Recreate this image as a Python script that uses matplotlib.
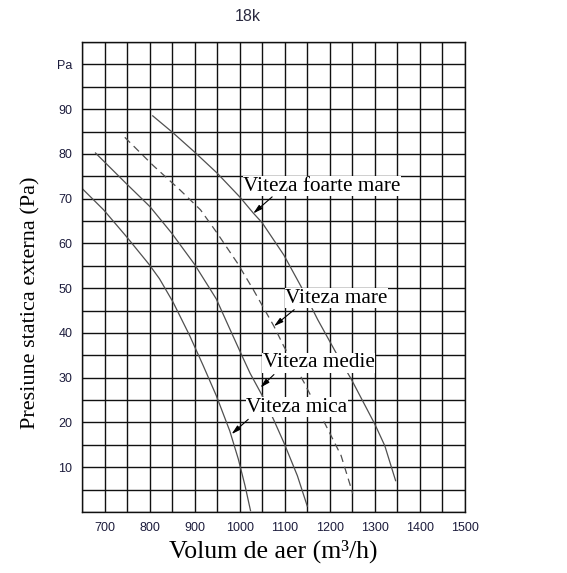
import matplotlib
matplotlib.use("Agg")
import matplotlib.pyplot as plt
import numpy as np

# curves (m3/h, Pa)
mica_x = [650, 698, 748, 799, 822, 852, 889, 919, 948, 978, 997, 1012, 1024]
mica_y = [72.3, 67.5, 61.6, 55.3, 52.1, 46.9, 39.4, 32.7, 26.0, 18.1, 11.8, 5.8, 0.3]

medie_x = [680, 748, 801, 849, 900, 948, 978, 1001, 1023, 1050, 1075, 1098, 1128, 1150]
medie_y = [80.2, 73.4, 68.2, 62.3, 55.3, 47.6, 40.9, 35.8, 31.0, 26.0, 20.7, 15.5, 8.1, 1.3]

mare_x = [745, 808, 868, 913, 950, 995, 1030, 1076, 1098, 1143, 1199, 1225, 1251]
mare_y = [83.7, 77.4, 71.9, 67.5, 62.3, 55.6, 49.7, 41.5, 37.0, 28.9, 17.8, 12.6, 4.1]

foarte_x = [807, 851, 900, 950, 1000, 1030, 1050, 1098, 1136, 1173, 1218, 1248, 1300, 1322, 1346]
foarte_y = [88.5, 84.8, 80.4, 75.7, 70.4, 66.8, 64.6, 57.4, 50.4, 43.0, 34.8, 29.6, 19.6, 14.8, 7.0]

x_ticks = [700, 800, 900, 1000, 1100, 1200, 1300, 1400, 1500]
y_ticks = [10, 20, 30, 40, 50, 60, 70, 80, 90, 100]
y_labels = ["10", "20", "30", "40", "50", "60", "70", "80", "90", "Pa"]

# label text, text position, arrow tail, arrow tip
labels = [
    ("Viteza foarte mare", (1008, 72.8), (1072, 70.4), (1030, 66.7)),
    ("Viteza mare", (1101, 47.8), (1121, 45.2), (1076, 41.5)),
    ("Viteza medie", (1051, 33.3), (1076, 30.7), (1046, 27.8)),
    ("Viteza mica", (1015, 23.4), (1019, 20.7), (982, 17.4)),
]

fig = plt.figure(figsize=(5.67, 5.73), dpi=100)
ax = fig.add_axes([0.1446, 0.1065, 0.6755, 0.8202])

ax.set_xlim(650, 1500)
ax.set_ylim(0, 105)
ax.set_xticks(np.arange(650, 1501, 50), minor=True)
ax.set_yticks(np.arange(0, 106, 5), minor=True)
ax.grid(which="both", color="#111111", lw=1.0)
ax.set_axisbelow(True)
for s in ax.spines.values():
    s.set_color("#111111")
    s.set_linewidth(1.0)

ax.set_xticks(x_ticks)
ax.set_xticklabels([str(v) for v in x_ticks], fontsize=9, family="Liberation Sans",
                   color="#1c1c3c")
ax.set_yticks(y_ticks)
ax.set_yticklabels(y_labels, fontsize=9, family="Liberation Sans", color="#1c1c3c")
ax.tick_params(which="both", length=0, pad=7)

lc = "#505050"
ax.plot(mica_x, mica_y, color=lc, lw=0.9)
ax.plot(medie_x, medie_y, color=lc, lw=0.9)
ax.plot(mare_x, mare_y, color=lc, lw=0.9, dashes=(6, 4))
ax.plot(foarte_x, foarte_y, color=lc, lw=0.9)

for txt, pos, tail, tip in labels:
    ax.text(pos[0], pos[1], txt, family="Liberation Serif", fontsize=15.3,
            va="center", ha="left", color="black", zorder=3,
            bbox=dict(facecolor="white", edgecolor="none", pad=0.5))
    ax.annotate("", xy=tip, xytext=tail, zorder=4,
                arrowprops=dict(arrowstyle="-|>,head_length=0.55,head_width=0.15",
                                color="black", lw=0.8, shrinkA=0, shrinkB=0))

ax.set_xlabel("Volum de aer (m³/h)", family="Liberation Serif", fontsize=18.5,
              labelpad=4)
ax.set_ylabel("Presiune statica externa (Pa)", family="Liberation Serif",
              fontsize=16, labelpad=16)
ax.yaxis.set_label_coords(-0.108, 0.445)

fig.text(0.437, 0.972, "18k", family="Liberation Sans", fontsize=11.5,
         color="#2a2a40", ha="center", va="center")

fig.savefig("out.png", dpi=100)
